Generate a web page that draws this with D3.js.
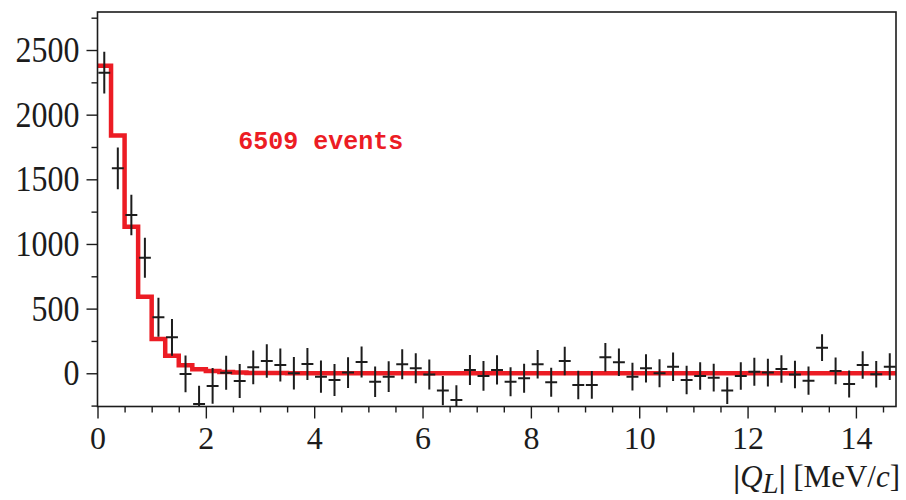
<!DOCTYPE html>
<html>
<head>
<meta charset="utf-8">
<script src="https://cdn.jsdelivr.net/npm/d3@7"></script>
<style>
  html, body { margin: 0; padding: 0; background: #fff; }
  svg { display: block; }
  .tick text { font-family: "Liberation Serif", "Times New Roman", serif; }
</style>
</head>
<body>
<svg id="chart" width="906" height="500"></svg>
<script>
// Bin width of the |Q_L| histogram (MeV/c)
const binWidth = 0.25;

// Measured yield per bin (background subtracted) and its uncertainty
const dataCounts = [
  2325, 1585, 1224, 894, 433, 278, -5, -237, -98, 4,
  -60, 46, 95, 64, 0, 72, -26, -52, 5, 87,
  -65, -26, 69, 38, -10, -134, -206, 26, -21, 26,
  -65, -39, 69, -70, 95, -90, -90, 124, 85, -26,
  38, 0, 51, -52, -21, -34, -134, -21, 12, 5,
  33, -10, -57, 198, 18, -83, 64, -8, 51
];
const dataErrors = [
  162, 161, 157, 155, 151, 142, 142, 140, 138, 132,
  131, 130, 129, 128, 126, 124, 124, 123, 118, 120,
  118, 118, 116, 116, 116, 113, 114, 116, 115, 113,
  112, 112, 110, 112, 110, 110, 108, 110, 107, 108,
  110, 108, 110, 110, 107, 107, 104, 106, 108, 107,
  107, 106, 110, 104, 103, 104, 106, 103, 103
];

// Fitted signal shape per bin
const fitCounts = [
  2379, 1838, 1134, 592, 265, 136, 62, 31, 18, 9,
  5, 3, 2, 2, 1, 1, 1, 1, 1, 0,
  0, 0, 0, 0, 0, 0, 0, 0, 0, 0,
  0, 0, 0, 0, 0, 0, 0, 0, 0, 0,
  0, 0, 0, 0, 0, 0, 0, 0, 0, 0,
  0, 0, 0, 0, 0, 0, 0, 0, 0
];

// Axis ticks
const xMajorTicks = [0, 2, 4, 6, 8, 10, 12, 14];
const xMinorTicks = [0.5, 1, 1.5, 2.5, 3, 3.5, 4.5, 5, 5.5, 6.5, 7, 7.5, 8.5, 9, 9.5,
                     10.5, 11, 11.5, 12.5, 13, 13.5, 14.5];
const yMajorTicks = [0, 500, 1000, 1500, 2000, 2500];
const yMinorTicks = [-250, 250, 750, 1250, 1750, 2250, 2750];

const annotation = "6509 events";

const svg = d3.select("#chart");
const plotLeft = 97.5, plotRight = 896, plotTop = 12, plotBottom = 406.5;

const x = d3.scaleLinear().domain([0, 14.74]).range([plotLeft, plotRight]);
const y = d3.scaleLinear().domain([-257, 2794]).range([plotBottom, plotTop]);

const ink = "#1c1c1c";
const red = "#ec1c24";
const stretch = 1.12; // y-axis digits are set slightly taller than wide

svg.append("defs").append("clipPath").attr("id", "plotClip")
  .append("rect").attr("x", plotLeft).attr("y", plotTop)
  .attr("width", plotRight - plotLeft).attr("height", plotBottom - plotTop);

const plot = svg.append("g").attr("clip-path", "url(#plotClip)");

// Fit histogram as a step line
const stepPts = [];
fitCounts.forEach((v, i) => {
  stepPts.push([i * binWidth, v]);
  stepPts.push([(i + 1) * binWidth, v]);
});
plot.append("path")
  .attr("d", d3.line().x(d => x(d[0])).y(d => y(d[1]))(stepPts))
  .attr("fill", "none")
  .attr("stroke", red)
  .attr("stroke-width", 4.5)
  .attr("stroke-linejoin", "miter");

// Data points with error bars
const pts = dataCounts.map((v, i) => ({
  c: (i + 0.5) * binWidth, v: v, e: dataErrors[i]
}));
const cross = plot.append("g")
  .attr("stroke", ink)
  .attr("stroke-width", 2);
cross.selectAll("line.ev").data(pts).join("line")
  .attr("class", "ev")
  .attr("x1", d => x(d.c)).attr("x2", d => x(d.c))
  .attr("y1", d => y(d.v + d.e)).attr("y2", d => y(d.v - d.e));
cross.selectAll("line.eh").data(pts).join("line")
  .attr("class", "eh")
  .attr("x1", d => x(d.c - 0.11)).attr("x2", d => x(d.c + 0.11))
  .attr("y1", d => y(d.v)).attr("y2", d => y(d.v));

// Frame
svg.append("rect")
  .attr("x", plotLeft).attr("y", plotTop)
  .attr("width", plotRight - plotLeft).attr("height", plotBottom - plotTop)
  .attr("fill", "none").attr("stroke", ink).attr("stroke-width", 1.6);

// Axes
const xMinor = svg.append("g").attr("transform", `translate(0,${plotBottom})`)
  .call(d3.axisBottom(x).tickValues(xMinorTicks).tickSize(6).tickFormat(""));
const xMajor = svg.append("g").attr("transform", `translate(0,${plotBottom})`)
  .call(d3.axisBottom(x).tickValues(xMajorTicks).tickSize(12).tickPadding(8)
    .tickFormat(d3.format("d")));
const yMinor = svg.append("g").attr("transform", `translate(${plotLeft},0)`)
  .call(d3.axisLeft(y).tickValues(yMinorTicks).tickSize(6).tickFormat(""));
const yMajor = svg.append("g").attr("transform", `translate(${plotLeft},0)`)
  .call(d3.axisLeft(y).tickValues(yMajorTicks).tickSize(11).tickPadding(7)
    .tickFormat(d3.format("d")));

[xMinor, xMajor, yMinor, yMajor].forEach(g => {
  g.select(".domain").remove();
  g.selectAll(".tick line").attr("stroke", ink).attr("stroke-width", 1.4);
  g.selectAll(".tick text").attr("fill", ink).attr("font-size", 32);
});
yMajor.selectAll(".tick text").attr("transform", `scale(1,${stretch})`);

// Axis title: |Q_L| [MeV/c]
const title = svg.append("text")
  .attr("x", 900).attr("y", 487)
  .attr("text-anchor", "end")
  .attr("font-family", "'Liberation Serif', 'Times New Roman', serif")
  .attr("font-size", 31)
  .attr("fill", ink);
title.append("tspan").attr("font-weight", "bold").text("|");
title.append("tspan").attr("font-style", "italic").text("Q");
title.append("tspan").attr("font-style", "italic").attr("dy", 6).attr("font-size", 29).text("L");
title.append("tspan").attr("dy", -6).attr("font-weight", "bold").text("|");
title.append("tspan").text(" [MeV/");
title.append("tspan").attr("font-style", "italic").text("c");
title.append("tspan").text("]");

// Event count annotation
svg.append("text")
  .attr("x", x(2.6)).attr("y", 148.5)
  .attr("font-family", "'Liberation Mono', 'Courier New', monospace")
  .attr("font-weight", "bold")
  .attr("font-size", 25)
  .attr("fill", red)
  .text(annotation);
</script>
</body>
</html>
